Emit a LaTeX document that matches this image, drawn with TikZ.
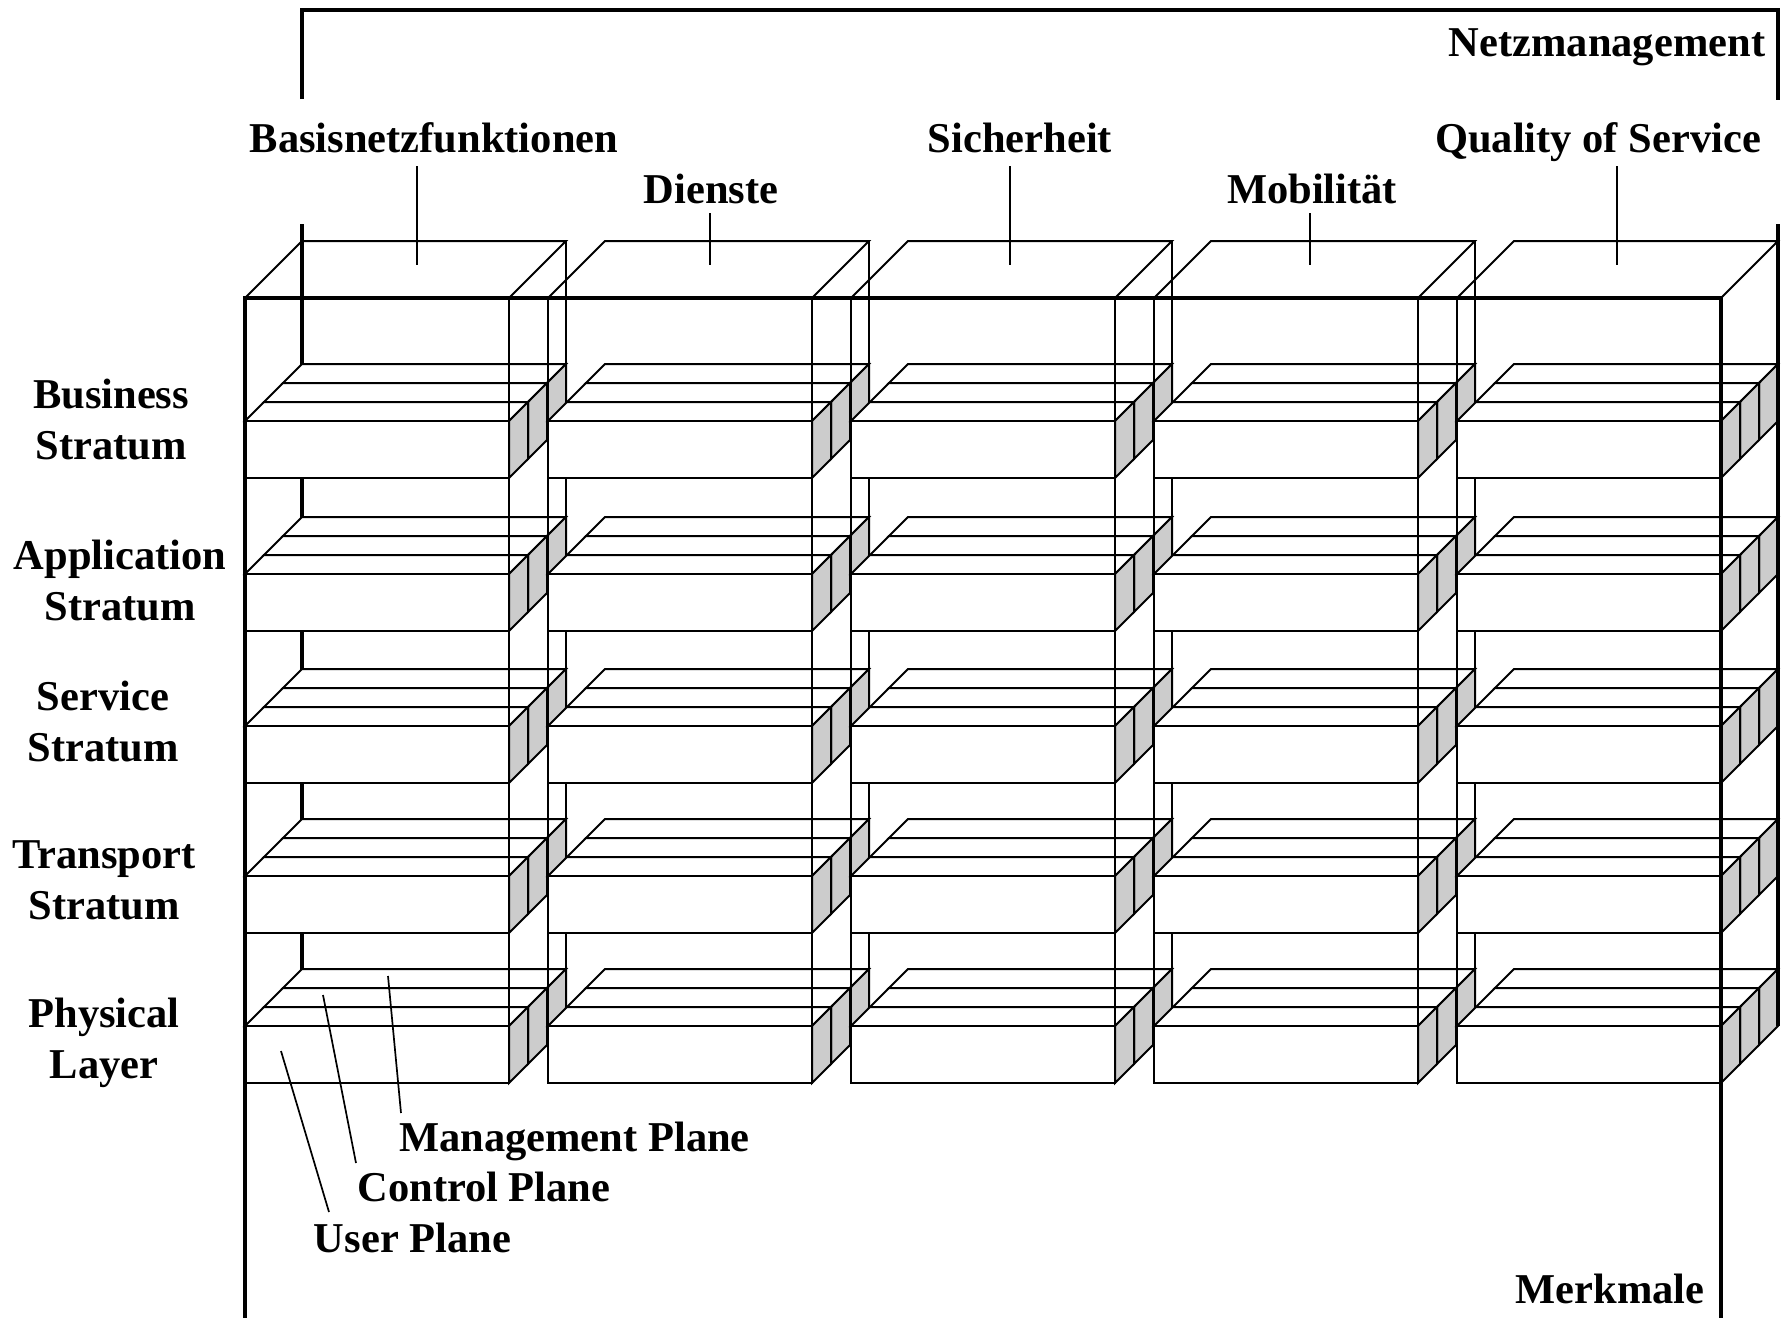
\documentclass[tikz,border=0pt]{standalone}
\usepackage{fontspec}
\setmainfont{Liberation Serif}
\definecolor{sidegray}{RGB}{204,204,204}
\begin{document}
\begin{tikzpicture}[x=1pt,y=-1pt,line join=miter,
  edge/.style={line width=2pt},
  hair/.style={line width=1.7pt},
  heavy/.style={line width=4.5pt},
  frame/.style={line width=3.2pt},
  lbl/.style={font=\bfseries\fontsize{42.5}{51}\selectfont, inner sep=0pt, anchor=base},
  face/.style={edge, fill=white},
  side/.style={edge, fill=sidegray}]
\useasboundingbox (0,0) rectangle (1789,1318);

% Netzmanagement bracket
\draw[frame] (302,99) -- (302,10) -- (1778,10) -- (1778,100);

% column wireframes (back parts)
\foreach \i in {0,...,4} {
  \pgfmathsetmacro{\L}{245+303*\i}
  \draw[edge] (\L,298) -- (\L+57,241) -- (\L+321,241) -- (\L+264,298);
  \draw[edge] (\L+321,241) -- (\L+321,1026);
}
% back-left edge of the whole block
\draw[frame] (302,224) -- (302,1026);

% strata blocks (three planes each)
\foreach \i in {0,...,4} {
  \foreach \T in {421,574,726,876,1026} {
    \pgfmathsetmacro{\L}{245+303*\i}
    \foreach \j in {2,1,0} {
      \pgfmathsetmacro{\X}{\L+19*\j}
      \pgfmathsetmacro{\Y}{\T-19*\j}
      \draw[face] (\X,\Y) -- (\X+264,\Y) -- (\X+283,\Y-19) -- (\X+19,\Y-19) -- cycle;
      \draw[side] (\X+264,\Y) -- (\X+283,\Y-19) -- (\X+283,\Y+38) -- (\X+264,\Y+57) -- cycle;
      \draw[face] (\X,\Y) rectangle (\X+264,\Y+57);
    }
  }
}

% column front verticals
\foreach \i in {0,...,4} {
  \pgfmathsetmacro{\L}{245+303*\i}
  \draw[edge] (\L,298) -- (\L,1082);
  \draw[edge] (\L+264,298) -- (\L+264,1082);
}

% outer frame
\draw[frame] (245,298) -- (1721,298);
\draw[heavy] (245,296) -- (245,1318);
\draw[heavy] (1721,296) -- (1721,1318);
\draw[frame] (1778,224) -- (1778,1026);

% top labels
\node[lbl] (netz) at (1607,56) {Netzmanagement};
\node[lbl] (basis) at (434,152) {Basisnetzfunktionen};
\node[lbl] (dienste) at (711,203) {Dienste};
\node[lbl] (sicher) at (1020,152) {Sicherheit};
\node[lbl] (mobil) at (1312,203) {Mobilität};
\node[lbl] (qos) at (1598,152) {Quality of Service};

\coordinate (s1t) at (417,166); \coordinate (s1b) at (417,265);
\coordinate (s2t) at (710,213); \coordinate (s2b) at (710,265);
\coordinate (s3t) at (1010,166); \coordinate (s3b) at (1010,265);
\coordinate (s4t) at (1310,213); \coordinate (s4b) at (1310,265);
\coordinate (s5t) at (1617,166); \coordinate (s5b) at (1617,265);
\foreach \s in {1,...,5} { \draw[hair] (s\s t) -- (s\s b); }

% left labels
\node[lbl] (bus1) at (111,408) {Business};
\node[lbl] (bus2) at (111,459) {Stratum};
\node[lbl] (app1) at (120,569) {Application};
\node[lbl] (app2) at (120,620) {Stratum};
\node[lbl] (ser1) at (103,710) {Service};
\node[lbl] (ser2) at (103,761) {Stratum};
\node[lbl] (tra1) at (104,868) {Transport};
\node[lbl] (tra2) at (104,919) {Stratum};
\node[lbl] (phy1) at (104,1027) {Physical};
\node[lbl] (phy2) at (104,1078) {Layer};

% plane labels
\node[lbl] (mgmt) at (574.5,1151) {Management Plane};
\node[lbl] (ctrl) at (484,1201) {Control Plane};
\node[lbl] (user) at (412.5,1252) {User Plane};
\node[lbl] (merk) at (1610,1303) {Merkmale};

\coordinate (mA) at (388,976);  \coordinate (mB) at (401,1113);
\coordinate (cA) at (323,995);  \coordinate (cB) at (356,1163);
\coordinate (uA) at (281,1051); \coordinate (uB) at (329,1212);
\draw[hair] (mA) -- (mB);
\draw[hair] (cA) -- (cB);
\draw[hair] (uA) -- (uB);
\end{tikzpicture}
\end{document}
